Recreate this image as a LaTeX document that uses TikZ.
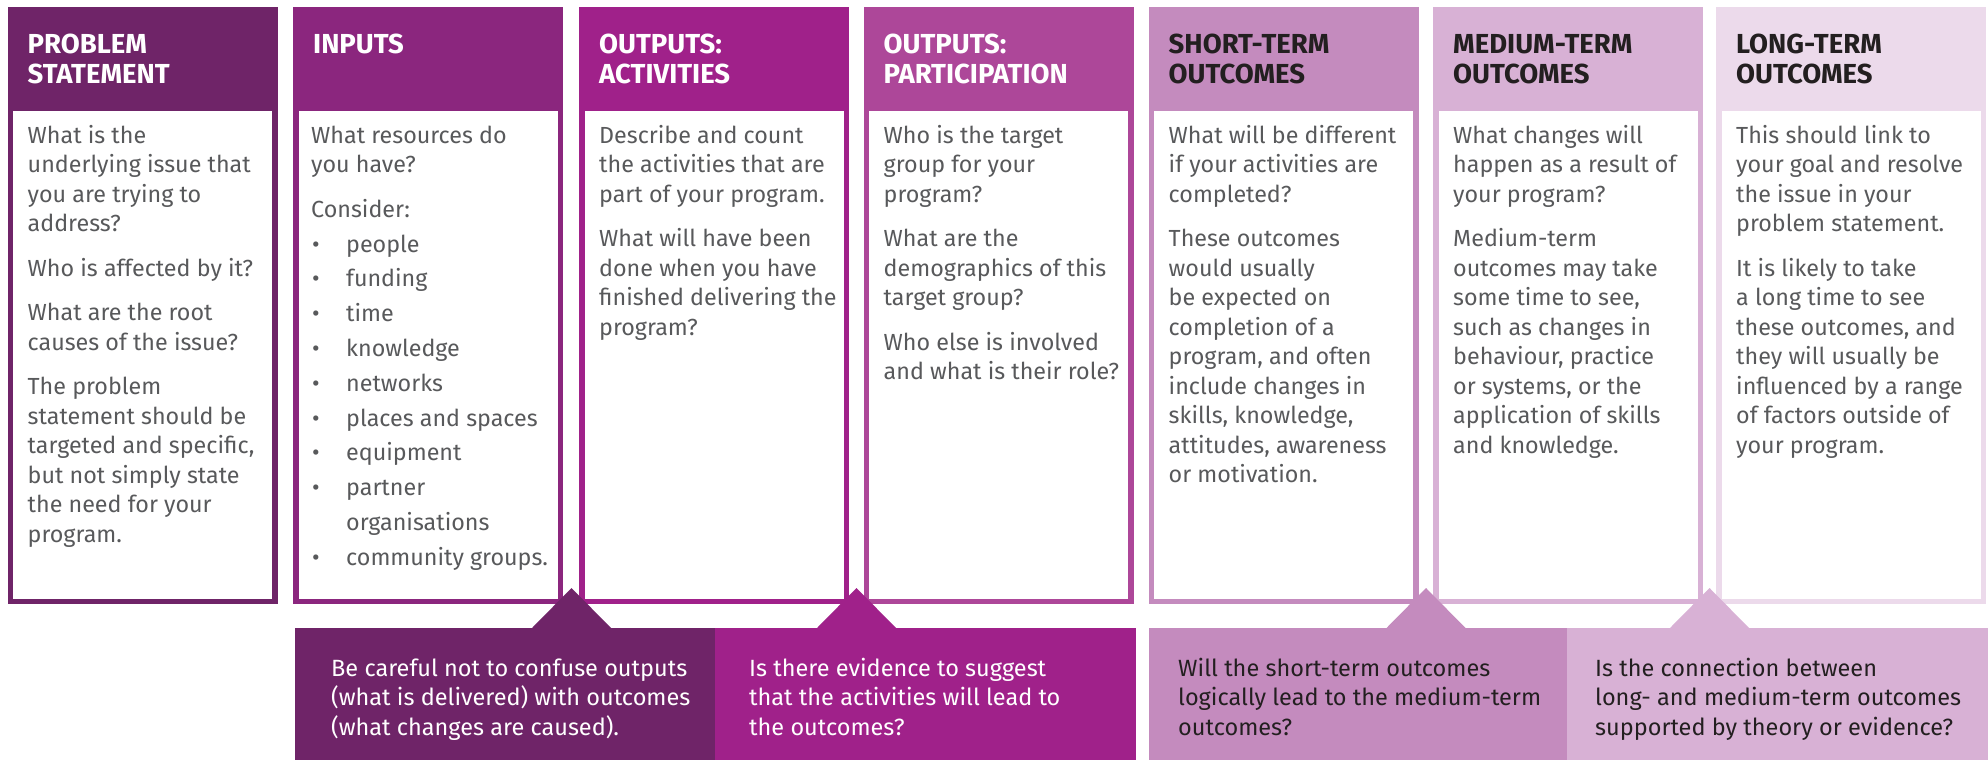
\documentclass[tikz,border=0pt]{standalone}
\usepackage{fontspec}
\setmainfont{Fira Sans}
\definecolor{c1}{HTML}{6F2468}
\definecolor{c2}{HTML}{8B267E}
\definecolor{c3}{HTML}{A0218A}
\definecolor{c4}{HTML}{AD4799}
\definecolor{c5}{HTML}{C48BBE}
\definecolor{c6}{HTML}{D8B1D5}
\definecolor{c7}{HTML}{ECDAEB}
\definecolor{bodygray}{HTML}{58595B}
\definecolor{darktext}{HTML}{231F20}
\newcommand\fstrut{\rule{0pt}{20pt}}
\newcommand\bitem[1]{\hspace*{1pt}\makebox[34pt][l]{\textbullet}#1}
\begin{document}
\begin{tikzpicture}[x=1pt,y=-1pt,
  colframe/.style={draw=none,inner sep=0pt,outer sep=0pt,anchor=north west,minimum width=270pt,minimum height=597pt},
  bodybox/.style={fill=white,draw=none,inner sep=0pt,outer sep=0pt,anchor=north west,minimum width=259pt,minimum height=488pt},
  headtext/.style={anchor=north west,inner sep=0pt,align=left,font=\fontsize{27.5}{30}\selectfont\bfseries},
  bodytext/.style={anchor=north west,inner sep=0pt,align=left,text=bodygray,font=\fontsize{23.3}{29.5}\selectfont},
  notebox/.style={draw=none,inner sep=0pt,outer sep=0pt,anchor=north west,minimum height=132pt},
  notetext/.style={anchor=north west,inner sep=0pt,align=left,font=\fontsize{23.5}{29.5}\selectfont},
]
\useasboundingbox (0,0) rectangle (1988,760);
\fill[white] (0,0) rectangle (1988,760);
% columns
\node[colframe,fill=c1] (f1) at (7.5,7) {};
\node[colframe,fill=c2] (f2) at (293,7) {};
\node[colframe,fill=c3] (f3) at (579,7) {};
\node[colframe,fill=c4] (f4) at (863.5,7) {};
\node[colframe,fill=c5] (f5) at (1148.5,7) {};
\node[colframe,fill=c6] (f6) at (1433,7) {};
\node[colframe,fill=c7] (f7) at (1716,7) {};
\node[bodybox] (w1) at (13,110.5) {};
\node[bodybox] (w2) at (298.5,110.5) {};
\node[bodybox] (w3) at (584.5,110.5) {};
\node[bodybox] (w4) at (869,110.5) {};
\node[bodybox] (w5) at (1154,110.5) {};
\node[bodybox] (w6) at (1438.5,110.5) {};
\node[bodybox] (w7) at (1721.5,110.5) {};
% headers
\node[headtext,text=white] (h1) at (27.5,33) {\fstrut PROBLEM\\STATEMENT};
\node[headtext,text=white] (h2) at (313,33) {\fstrut INPUTS};
\node[headtext,text=white] (h3) at (599,33) {\fstrut OUTPUTS:\\ACTIVITIES};
\node[headtext,text=white] (h4) at (883.5,33) {\fstrut OUTPUTS:\\PARTICIPATION};
\node[headtext,text=darktext] (h5) at (1168.5,33) {\fstrut SHORT-TERM\\OUTCOMES};
\node[headtext,text=darktext] (h6) at (1453,33) {\fstrut MEDIUM-TERM\\OUTCOMES};
\node[headtext,text=darktext] (h7) at (1736,33) {\fstrut LONG-TERM\\OUTCOMES};
% bodies
\node[bodytext] (t1) at (27.5,123) {\fstrut What is the\\underlying issue that\\you are trying to\\address?\\[15pt]Who is affected by it?\\[15pt]What are the root\\causes of the issue?\\[15pt]The problem\\statement should be\\targeted and specific,\\but not simply state\\the need for your\\program.};
\node[bodytext] (t2) at (311,123) {\fstrut What resources do\\you have?\\[15pt]Consider:\\[5.3pt]\bitem{people}\\[5.3pt]\bitem{funding}\\[5.3pt]\bitem{time}\\[5.3pt]\bitem{knowledge}\\[5.3pt]\bitem{networks}\\[5.3pt]\bitem{places and spaces}\\[5.3pt]\bitem{equipment}\\[5.3pt]\bitem{partner}\\[5.3pt]\hspace*{35pt}organisations\\[5.3pt]\bitem{community groups.}};
\node[bodytext] (t3) at (599,123) {\fstrut Describe and count\\the activities that are\\part of your program.\\[15pt]What will have been\\done when you have\\finished delivering the\\program?};
\node[bodytext] (t4) at (883.5,123) {\fstrut Who is the target\\group for your\\program?\\[15pt]What are the\\demographics of this\\target group?\\[15pt]Who else is involved\\and what is their role?};
\node[bodytext] (t5) at (1168.5,123) {\fstrut What will be different\\if your activities are\\completed?\\[15pt]These outcomes\\would usually\\be expected on\\completion of a\\program, and often\\include changes in\\skills, knowledge,\\attitudes, awareness\\or motivation.};
\node[bodytext] (t6) at (1453,123) {\fstrut What changes will\\happen as a result of\\your program?\\[15pt]Medium-term\\outcomes may take\\some time to see,\\such as changes in\\behaviour, practice\\or systems, or the\\application of skills\\and knowledge.};
\node[bodytext] (t7) at (1736,123) {\fstrut This should link to\\your goal and resolve\\the issue in your\\problem statement.\\[15pt]It is likely to take\\a long time to see\\these outcomes, and\\they will usually be\\influenced by a range\\of factors outside of\\your program.};
% note boxes
\node[notebox,fill=c1,minimum width=420pt] (n1) at (295,628) {};
\node[notebox,fill=c3,minimum width=421pt] (n2) at (715,628) {};
\node[notebox,fill=c5,minimum width=419pt] (n3) at (1148.5,628) {};
\node[notebox,fill=c6,minimum width=421pt] (n4) at (1567,628) {};
% pointers
\fill[c1] (531.5,628.5) -- (571.5,588) -- (611.5,628.5) -- cycle;
\fill[c3] (816.5,628.5) -- (856.5,588) -- (896.5,628.5) -- cycle;
\fill[c5] (1386,628.5) -- (1426,588) -- (1466,628.5) -- cycle;
\fill[c6] (1669.5,628.5) -- (1709.5,588) -- (1749.5,628.5) -- cycle;
% note texts
\node[notetext,text=white] (m1) at (331,656) {\fstrut Be careful not to confuse outputs\\(what is delivered) with outcomes\\(what changes are caused).};
\node[notetext,text=white] (m2) at (749,656) {\fstrut Is there evidence to suggest\\that the activities will lead to\\the outcomes?};
\node[notetext,text=darktext] (m3) at (1178,656) {\fstrut Will the short-term outcomes\\logically lead to the medium-term\\outcomes?};
\node[notetext,text=darktext] (m4) at (1595,656) {\fstrut Is the connection between\\long- and medium-term outcomes\\supported by theory or evidence?};
\end{tikzpicture}
\end{document}
